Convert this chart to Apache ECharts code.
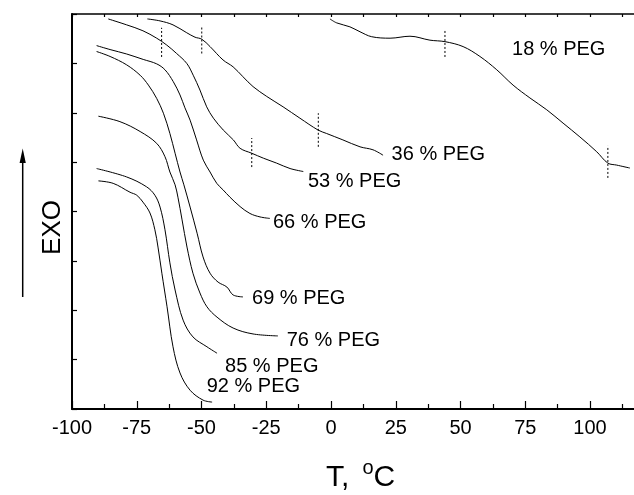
<!DOCTYPE html>
<html><head><meta charset="utf-8">
<script src="https://cdn.jsdelivr.net/npm/echarts@6/dist/echarts.min.js"></script>
<style>html,body{margin:0;padding:0;background:#fff}#c{width:634px;height:495px}</style>
</head><body><div id="c"></div>
<script>
// ---- data (T in °C, heat flow in arbitrary units) ----
const curveNames = ['18 % PEG','36 % PEG','53 % PEG','66 % PEG','69 % PEG','76 % PEG','85 % PEG','92 % PEG'];

const t18 = [-0.4, 2.2, 7.3, 11.2, 15.7, 22.8, 30.5, 38.2, 44.0, 51.0, 57.5, 64.0, 70.3, 76.8, 83.3, 89.6, 96.1, 102.6, 106.9, 110.3, 115.4];
const y18 = [7.90, 7.82, 7.74, 7.64, 7.54, 7.51, 7.55, 7.47, 7.44, 7.34, 7.14, 6.87, 6.56, 6.30, 6.06, 5.79, 5.51, 5.21, 4.98, 4.94, 4.88];

const t36 = [-70.9, -66.0, -61.0, -55.7, -52.5, -49.9, -46.7, -41.7, -37.8, -34.0, -30.1, -24.8, -18.5, -12.0, -5.0, -1.7, 4.6, 11.2, 16.2, 20.1];
const y36 = [7.90, 7.86, 7.78, 7.62, 7.53, 7.49, 7.34, 7.07, 6.93, 6.73, 6.53, 6.33, 6.12, 5.89, 5.65, 5.58, 5.45, 5.31, 5.25, 5.14];

const t53 = [-86.0, -78.9, -72.6, -67.3, -63.4, -59.6, -55.7, -53.2, -50.6, -48.0, -45.4, -41.6, -37.7, -35.1, -30.6, -26.1, -21.0, -15.8, -10.7];
const y53 = [7.90, 7.78, 7.66, 7.51, 7.37, 7.20, 7.00, 6.76, 6.46, 6.12, 5.89, 5.65, 5.45, 5.28, 5.18, 5.08, 4.98, 4.87, 4.81];

const t66 = [-90.5, -85.3, -78.9, -72.5, -67.3, -64.1, -60.9, -58.3, -56.4, -54.4, -51.9, -49.3, -46.7, -44.1, -41.7, -39.0, -35.1, -31.3, -27.4, -23.6];
const y66 = [7.36, 7.28, 7.19, 7.08, 6.99, 6.87, 6.63, 6.36, 6.10, 5.85, 5.45, 5.04, 4.80, 4.57, 4.44, 4.29, 4.10, 3.96, 3.89, 3.86];

const t69 = [-90.5, -85.3, -78.9, -73.7, -70.5, -67.3, -64.7, -62.2, -60.2, -58.3, -56.8, -54.4, -51.7, -49.4, -46.7, -43.6, -40.2, -37.8, -34.0];
const y69 = [7.24, 7.14, 6.97, 6.76, 6.56, 6.29, 5.99, 5.58, 5.18, 4.80, 4.54, 4.09, 3.56, 3.08, 2.75, 2.57, 2.47, 2.31, 2.27];

const t76 = [-89.8, -81.5, -73.7, -67.3, -64.1, -62.2, -60.2, -59.1, -57.5, -55.6, -53.3, -50.6, -47.9, -44.0, -37.8, -30.1, -20.5];
const y76 = [5.93, 5.82, 5.62, 5.38, 5.11, 4.80, 4.54, 4.29, 3.83, 3.28, 2.75, 2.35, 2.07, 1.86, 1.64, 1.52, 1.48];

const t85 = [-90.5, -78.9, -71.2, -68.0, -66.0, -64.1, -62.2, -60.2, -57.1, -53.3, -47.9, -44.0];
const y85 = [4.87, 4.70, 4.50, 4.33, 4.09, 3.63, 2.96, 2.41, 1.80, 1.46, 1.26, 1.13];

const t92 = [-89.8, -84.1, -77.6, -75.0, -72.6, -69.9, -68.0, -66.8, -65.3, -63.3, -61.0, -58.3, -54.4, -49.4, -45.9];
const y92 = [4.62, 4.57, 4.39, 4.33, 4.19, 3.97, 3.63, 3.28, 2.75, 2.07, 1.26, 0.73, 0.38, 0.18, 0.14];

// curve label anchor positions (data units)
const labelT = [69.9, 23.4, -8.9, -22.4, -30.5, -17.1, -40.9, -48.0];
const labelY = [7.29, 5.15, 4.60, 3.78, 2.23, 1.39, 0.87, 0.45];

// dotted transition markers (onset / end)
const markT  = [44.0, 106.9, -49.9, -4.9, -65.4, -30.6];
const markLo = [7.13, 4.68, 7.20, 5.31, 7.13, 4.90];
const markHi = [7.68, 5.33, 7.74, 5.99, 7.72, 5.49];

const xTickLabels = [-100, -75, -50, -25, 0, 25, 50, 75, 100];

// ---- chart ----
const FONT = 'Liberation Sans, Arial, Helvetica, sans-serif';
const curvesT = [t18, t36, t53, t66, t69, t76, t85, t92];
const curvesY = [y18, y36, y53, y66, y69, y76, y85, y92];

const series = curvesT.map((ts, i) => ({
  type: 'line', name: curveNames[i], xAxisIndex: 0, yAxisIndex: 0,
  data: ts.map((t, k) => [t, curvesY[i][k]]),
  showSymbol: false, symbol: 'none', smooth: 0.35, silent: true,
  lineStyle: { color: '#000', width: 1 }
}));

markT.forEach((t, i) => series.push({
  type: 'line', silent: true, symbol: 'none', showSymbol: false,
  data: [[t, markLo[i]], [t, markHi[i]]],
  lineStyle: { color: '#000', width: 1, type: [2, 2] }
}));

series.push({
  type: 'scatter', silent: true, symbolSize: 0,
  itemStyle: { color: '#000', opacity: 1 },
  data: labelT.map((t, i) => [t, labelY[i]]),
  label: {
    show: true, position: 'right', distance: 0, opacity: 1,
    textBorderWidth: 0, textShadowBlur: 0,
    formatter: p => curveNames[p.dataIndex],
    color: '#000', fontFamily: FONT, fontSize: 20
  }
});

const chart = echarts.init(document.getElementById('c'), null, { renderer: 'canvas' });
chart.setOption({
  backgroundColor: '#fff',
  animation: false,
  grid: { left: 72, top: 14, bottom: 86, right: -20.75, containLabel: false, outerBoundsMode: 'none' },
  xAxis: [{
    type: 'value', position: 'bottom', min: -100, max: 125, interval: 25,
    axisLine: { show: true, onZero: false, lineStyle: { color: '#000', width: 2 } },
    axisTick: { show: true, inside: true, length: 8, lineStyle: { color: '#000', width: 1.2 } },
    minorTick: { show: true, splitNumber: 2, length: 5, lineStyle: { color: '#000', width: 1.2 } },
    axisLabel: {
      show: true, margin: 9, color: '#000', fontFamily: FONT, fontSize: 20,
      formatter: v => (xTickLabels.indexOf(v) >= 0 ? String(v) : '')
    },
    splitLine: { show: false }, minorSplitLine: { show: false }
  }, {
    type: 'value', position: 'top', min: -100, max: 125, interval: 25,
    axisLine: { show: true, onZero: false, lineStyle: { color: '#000', width: 1.5 } },
    axisTick: { show: true, inside: true, length: 3, lineStyle: { color: '#000', width: 1.2 } },
    minorTick: { show: true, splitNumber: 2, length: 3, lineStyle: { color: '#000', width: 1.2 } },
    axisLabel: { show: false }, splitLine: { show: false }
  }],
  yAxis: [{
    type: 'value', min: 0, max: 8, interval: 1,
    axisLine: { show: true, onZero: false, lineStyle: { color: '#000', width: 2 } },
    axisTick: { show: true, inside: true, length: 5, lineStyle: { color: '#000', width: 1.2 } },
    axisLabel: { show: false }, splitLine: { show: false }
  }],
  graphic: [
    { type: 'line', shape: { x1: 22.7, y1: 297, x2: 22.7, y2: 158 }, style: { stroke: '#000', lineWidth: 1.5 } },
    { type: 'polygon', shape: { points: [[22.7, 148.5], [19.6, 163], [25.8, 163]] }, style: { fill: '#000' } },
    { type: 'text', x: 52.5, y: 227.5, rotation: Math.PI / 2,
      style: { text: 'EXO', fontSize: 26, fontFamily: FONT, fill: '#000', align: 'center', verticalAlign: 'middle' } },
    { type: 'text', x: 326, y: 477.5,
      style: { text: 'T,', fontSize: 30, fontFamily: FONT, fill: '#000', align: 'left', verticalAlign: 'middle' } },
    { type: 'text', x: 362.5, y: 468,
      style: { text: 'o', fontSize: 20, fontFamily: FONT, fill: '#000', align: 'left', verticalAlign: 'middle' } },
    { type: 'text', x: 373.5, y: 477.5,
      style: { text: 'C', fontSize: 30, fontFamily: FONT, fill: '#000', align: 'left', verticalAlign: 'middle' } }
  ],
  series: series
});
</script></body></html>
